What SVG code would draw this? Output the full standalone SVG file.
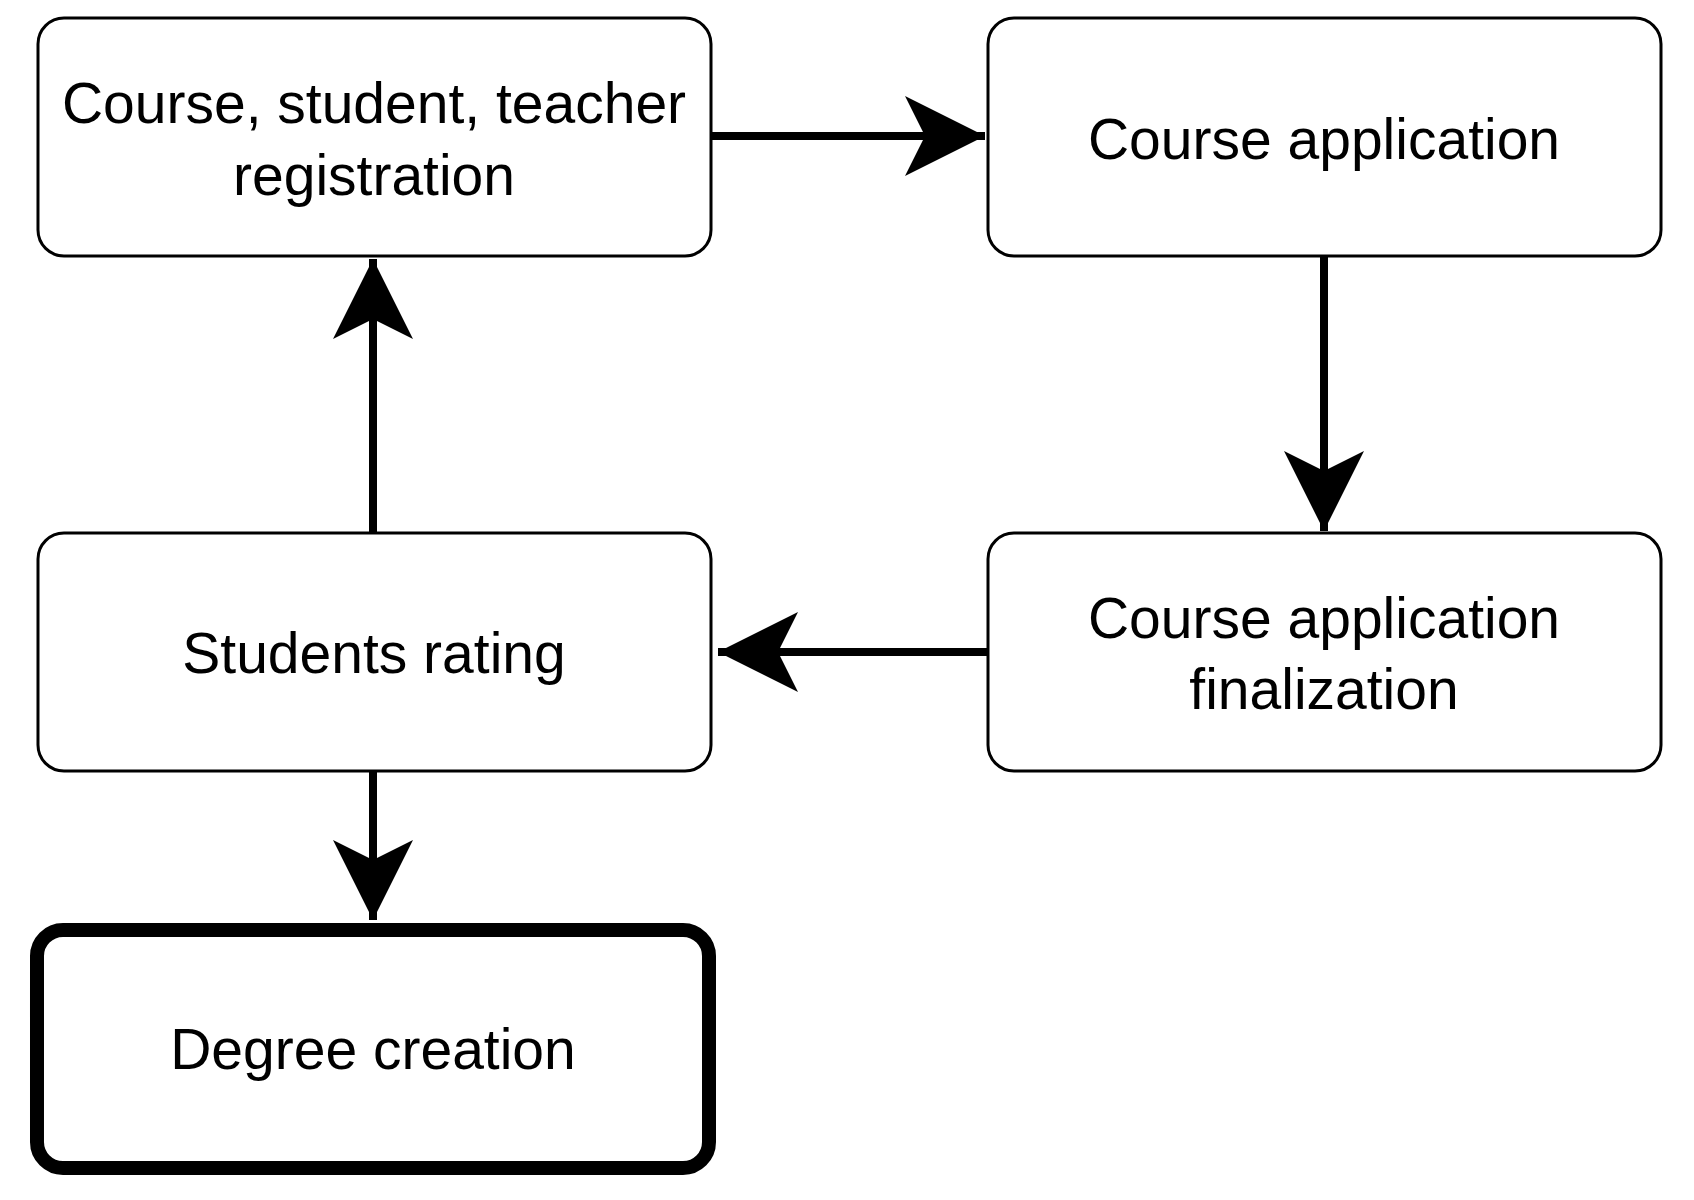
<svg xmlns="http://www.w3.org/2000/svg" width="1694" height="1200" viewBox="0 0 1694 1200">
<style>
.n{fill:#fff;stroke:#000;stroke-width:3}
.t{font-family:"Liberation Sans",Arial,sans-serif;font-size:57px;text-anchor:middle;fill:#000}
.c{stroke:#000;stroke-width:8;fill:none}
</style>
<defs>
<marker id="a" markerUnits="userSpaceOnUse" markerWidth="90" markerHeight="90" refX="80" refY="40" orient="auto" viewBox="0 0 90 80">
<path d="M0,0 L80,40 L0,80 L20,40 Z" fill="#000"/>
</marker>
</defs>
<rect width="1694" height="1200" fill="#fff"/>
<g id="connectors">
<line class="c" x1="711" y1="136" x2="985" y2="136" marker-end="url(#a)"/>
<line class="c" x1="1324" y1="256" x2="1324" y2="531" marker-end="url(#a)"/>
<line class="c" x1="988" y1="652" x2="718" y2="652" marker-end="url(#a)"/>
<line class="c" x1="373" y1="533" x2="373" y2="259" marker-end="url(#a)"/>
<line class="c" x1="373" y1="771" x2="373" y2="920" marker-end="url(#a)"/>
</g>
<g id="n1"><rect class="n" x="38" y="18" width="673" height="238" rx="26"/>
<text class="t" x="374" y="123">Course, student, teacher</text><text class="t" x="374" y="195">registration</text></g>
<g id="n2"><rect class="n" x="988" y="18" width="673" height="238" rx="26"/>
<text class="t" x="1324" y="159">Course application</text></g>
<g id="n3"><rect class="n" x="988" y="533" width="673" height="238" rx="26"/>
<text class="t" x="1324" y="638">Course application</text><text class="t" x="1324" y="709">finalization</text></g>
<g id="n4"><rect class="n" x="38" y="533" width="673" height="238" rx="26"/>
<text class="t" x="374" y="673">Students rating</text></g>
<g id="n5"><rect class="n" x="37" y="930" width="672" height="238" rx="26" style="stroke-width:14"/>
<text class="t" x="373" y="1069">Degree creation</text></g>
</svg>
